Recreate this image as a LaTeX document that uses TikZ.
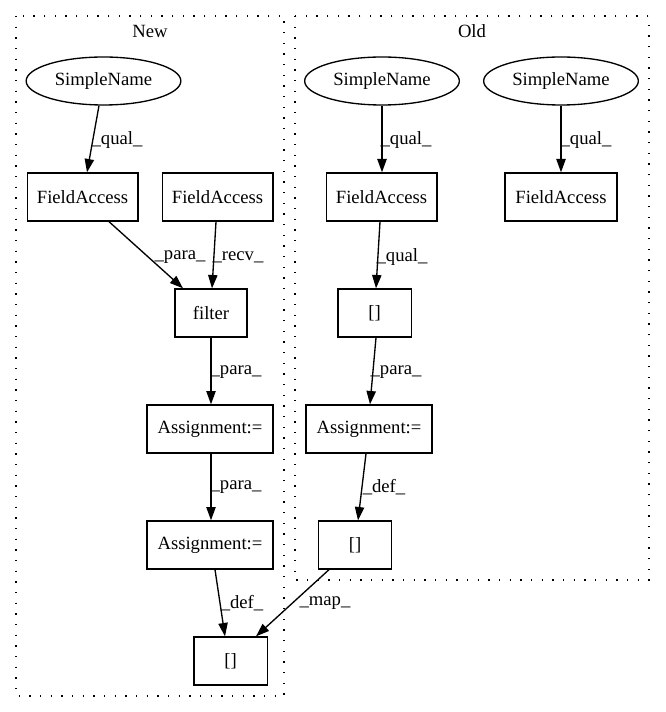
\documentclass[tikz,border=0pt]{standalone}
\usepackage{fontspec}
\setmainfont{Liberation Serif}
\usetikzlibrary{shapes.geometric,arrows.meta}
\tikzset{
  every node/.style={font=\fontsize{14}{16}\selectfont},
  box/.style={draw, line width=1pt, rectangle, minimum height=36pt, inner sep=0pt},
  ell/.style={draw, line width=1pt, ellipse, minimum width=116pt, minimum height=36pt, inner sep=0pt},
  clus/.style={draw, line width=1pt, dash pattern=on 1pt off 7pt},
  edge/.style={draw, line width=1pt, -{Triangle[length=10pt,width=7pt]}},
  lab/.style={anchor=center, inner sep=0pt}
}
\begin{document}
\begin{tikzpicture}[x=0.75pt,y=-0.75pt]
\useasboundingbox (0,0) rectangle (665,712);
% clusters
\draw[clus] (16,16) rectangle (284,696);
\draw[clus] (295,16) rectangle (649,580);
\node[lab] (tnew) at (150,31) {New};
\node[lab] (told) at (472,31) {Old};
% New
\node[ell] (nsn) at (103.5,81) {SimpleName};
\node[box, minimum width=83pt] (nfa1) at (82.5,197) {FieldAccess};
\node[box, minimum width=83pt] (nfa2) at (217.5,197) {FieldAccess};
\node[box, minimum width=54pt] (nfil) at (211,313) {filter};
\node[box, minimum width=94.5pt] (nas1) at (210,429) {Assignment:=};
\node[box, minimum width=94.5pt] (nas2) at (210,545) {Assignment:=};
\node[box, minimum width=55pt] (nidx) at (230.5,661) {[]};
% Old
\node[ell] (osn1) at (382,81) {SimpleName};
\node[ell] (osn2) at (561,81) {SimpleName};
\node[box, minimum width=83pt] (ofa1) at (381.5,197) {FieldAccess};
\node[box, minimum width=84pt] (ofa2) at (561,197) {FieldAccess};
\node[box, minimum width=55pt] (oidx1) at (374.5,313) {[]};
\node[box, minimum width=94.5pt] (oas) at (369,429) {Assignment:=};
\node[box, minimum width=55pt] (oidx2) at (355,545) {[]};
% edges New
\draw[edge] (nsn.south -| 99,0) -- (nfa1.north -| 87,0);
\node[lab] (l1) at (117,140) {\_qual\_};
\draw[edge] (nfa1.south -| 109,0) -- (nfil.north -| 183,0);
\node[lab] (l2) at (180,257) {\_para\_};
\draw[edge] (nfa2.south -| 216,0) -- (nfil.north -| 212,0);
\node[lab] (l3) at (238,257) {\_recv\_};
\draw[edge] (nfil.south -| 211,0) -- (nas1.north -| 211,0);
\node[lab] (l4) at (236,372) {\_para\_};
\draw[edge] (nas1.south -| 211,0) -- (nas2.north -| 211,0);
\node[lab] (l5) at (236,487) {\_para\_};
\draw[edge] (nas2.south -| 215,0) -- (nidx.north -| 225,0);
\node[lab] (l6) at (242,603) {\_def\_};
% edges Old
\draw[edge] (osn1) -- (ofa1.north -| osn1);
\node[lab] (l7) at (406,140) {\_qual\_};
\draw[edge] (osn2) -- (ofa2);
\node[lab] (l8) at (586,140) {\_qual\_};
\draw[edge] (ofa1.south -| 380,0) -- (oidx1.north -| 376,0);
\node[lab] (l9) at (402,257) {\_qual\_};
\draw[edge] (oidx1.south -| 376,0) -- (oas.north -| 370,0);
\node[lab] (l10) at (396,372) {\_para\_};
\draw[edge] (oas.south -| 366,0) -- (oidx2.north -| 358,0);
\node[lab] (l11) at (384,487) {\_def\_};
\draw[edge] (oidx2.south -| 329,0) -- (nidx.north -| 256,0);
\node[lab] (l12) at (325,603) {\_map\_};
\end{tikzpicture}
\end{document}
